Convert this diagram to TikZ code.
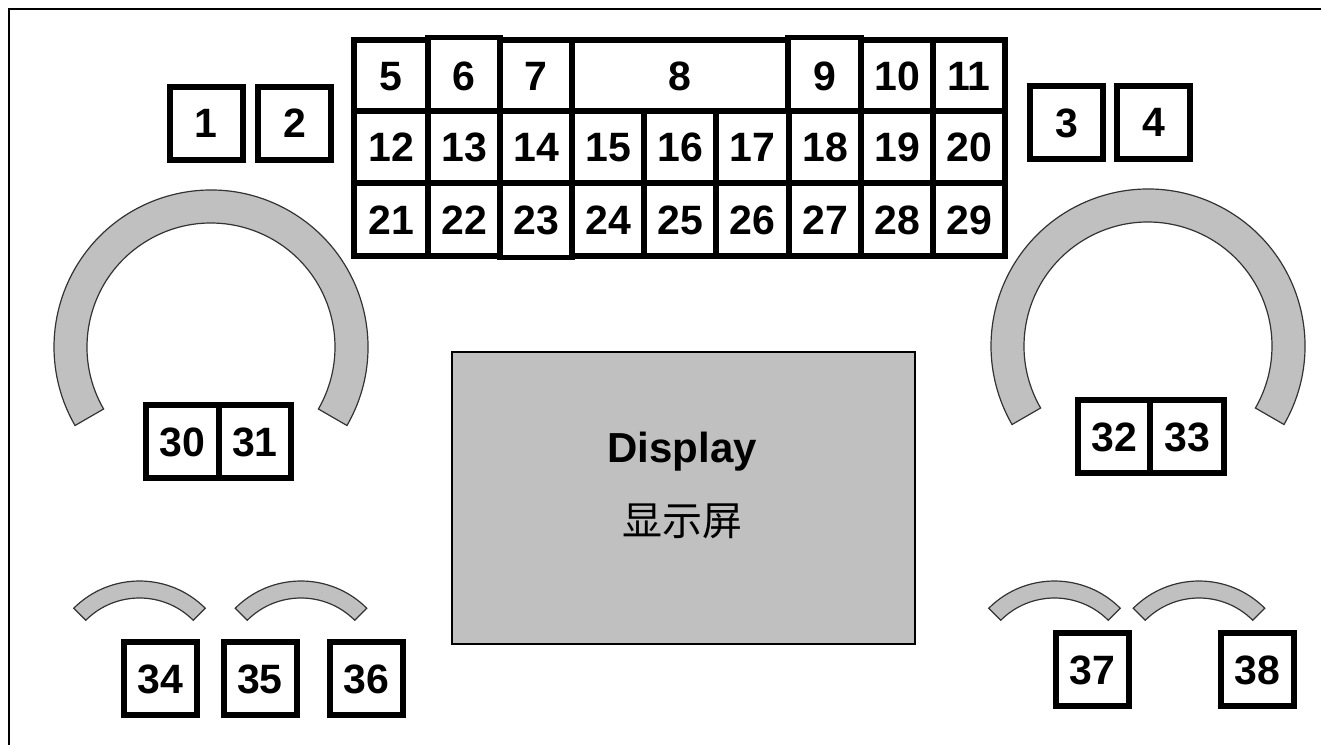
\documentclass[tikz,border=0pt]{standalone}
\usepackage{fontspec}
\setmainfont{Liberation Sans}
\newfontfamily\cjk{Noto Sans CJK SC}
\newcommand\numfont{\fontsize{41}{41}\selectfont\bfseries}
\definecolor{panelgray}{HTML}{C0C0C0}
\definecolor{arcline}{HTML}{333333}
\tikzset{
  numfix/.style={font=\numfont, text height=29.5pt, text depth=0pt},
  box/.style={draw, line width=6pt, inner sep=0pt, numfix, minimum width=73pt, minimum height=73pt},
  cell/.style={draw, line width=5.5pt, inner sep=0pt, numfix},
  numtext/.style={inner sep=0pt, numfix},
  arcband/.style={fill=panelgray, draw=arcline, line width=1.2pt},
  frameline/.style={line width=2pt},
}
\newcommand\gcell[6]{%
  \node[cell, minimum width={#3pt-#2pt}, minimum height={#5pt-#4pt}] (#1) at ({(#2+#3)/2},{-(#4+#5)/2}) {#6};}
\begin{document}
\begin{tikzpicture}[x=1pt,y=1pt]
\useasboundingbox (0,0) rectangle (1321,-745);
\fill[white] (0,0) rectangle (1321,-745);
% frame (top and left edges)
\coordinate (ftr) at (1321,-9);
\coordinate (ftl) at (9,-9);
\coordinate (fbl) at (9,-745);
\draw[frameline] (ftr) -- (ftl) -- (fbl);

% single boxes
\node[box] (b1) at (206,-123) {1};
\node[box] (b2) at (294.5,-123) {2};
\node[box] (b3) at (1066.75,-122.5) {3};
\node[box] (b4) at (1153.5,-122) {4};

% grid row 1
\gcell{c5}{354}{428}{40}{111}{5}
\gcell{c7}{500}{572}{40}{111}{7}
\gcell{c8}{572}{788}{40}{111}{8}
\gcell{c10}{861}{933}{40}{111}{10}
\gcell{c11}{933}{1005}{40}{111}{11}
\gcell{c6}{428}{500}{37.5}{111}{}
\gcell{c9}{788}{861}{37.5}{111}{}
\node[numtext] (t6) at (464,-75.5) {6};
\node[numtext] (t9) at (824.5,-75.5) {9};
% row 2
\gcell{c12}{354}{428}{111}{183}{12}
\gcell{c13}{428}{500}{111}{183}{13}
\gcell{c14}{500}{572}{111}{183}{14}
\gcell{c15}{572}{644}{111}{183}{15}
\gcell{c16}{644}{716}{111}{183}{16}
\gcell{c17}{716}{789}{111}{183}{17}
\gcell{c18}{789}{861}{111}{183}{18}
\gcell{c19}{861}{933}{111}{183}{19}
\gcell{c20}{933}{1005}{111}{183}{20}
% row 3
\gcell{c21}{354}{428}{183}{256}{21}
\gcell{c22}{428}{500}{183}{256}{22}
\gcell{c24}{572}{644}{183}{256}{24}
\gcell{c25}{644}{716}{183}{256}{25}
\gcell{c26}{716}{789}{183}{256}{26}
\gcell{c27}{789}{861}{183}{256}{27}
\gcell{c28}{861}{933}{183}{256}{28}
\gcell{c29}{933}{1005}{183}{256}{29}
\gcell{c23}{500}{572}{183}{257.5}{}
\node[numtext] (t23) at (536,-219.5) {23};

% big arcs
\draw[arcband] (211,-347) ++(-30:157) arc[start angle=-30, end angle=210, radius=157]
  -- ++(30:33) arc[start angle=210, end angle=-30, radius=124] -- cycle;
\draw[arcband] (1148,-346) ++(-30:157) arc[start angle=-30, end angle=210, radius=157]
  -- ++(30:33) arc[start angle=210, end angle=-30, radius=124] -- cycle;

% double boxes
\node[cell, line width=6pt, minimum width=72.5pt, minimum height=72.5pt] (b30) at (182.5,-441.25) {30};
\node[cell, line width=6pt, minimum width=72pt, minimum height=72.5pt] (b31) at (255,-441.25) {31};
\node[cell, line width=6pt, minimum width=72pt, minimum height=73pt] (b32) at (1114,-436.5) {32};
\node[cell, line width=6pt, minimum width=74pt, minimum height=73pt] (b33) at (1187,-436.5) {33};

% display
\node[draw, line width=2pt, fill=panelgray, minimum width=463.5pt, minimum height=291.5pt, inner sep=0pt] (disp) at (683.25,-497.75) {};
\node[font=\fontsize{42}{42}\selectfont\bfseries, inner sep=0pt] (dtxt) at (682,-452) {Display};
\node[font=\fontsize{40}{40}\selectfont\cjk, inner sep=0pt] (dcn) at (682,-521) {显示屏};

% small arcs
\foreach \cx/\nm in {139.5/a34, 301/a35, 1054.5/a37, 1199/a38}{
  \draw[arcband] (\cx,-674) ++(45:93) arc[start angle=45, end angle=135, radius=93]
    -- ++(-45:17) arc[start angle=135, end angle=45, radius=76] -- cycle;
}

% bottom boxes
\node[box] (b34) at (160.5,-678.75) {34};
\node[box] (b35) at (260,-678.75) {35};
\node[box] (b36) at (366.5,-678.75) {36};
\node[box] (b37) at (1092,-669.5) {37};
\node[box] (b38) at (1257.75,-669.5) {38};
\end{tikzpicture}
\end{document}
